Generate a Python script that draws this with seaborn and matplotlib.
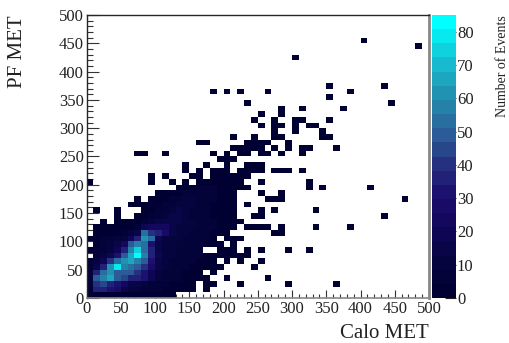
import pandas as pd
import matplotlib
matplotlib.use('Agg')
import matplotlib.pyplot as plt
from matplotlib.colors import LinearSegmentedColormap
from matplotlib.ticker import MultipleLocator
import seaborn as sns

# counts per 10 GeV bin, dense region: one row per PF bin, one column per Calo bin
dense_rows = [
    [2,3,3,3,3,3,3,3,2,2,1,1,1,0,0,0,0,0,0,0,0,0,0,0,0],
    [4,36,38,30,26,15,12,10,8,6,5,4,3,3,2,2,0,1,0,0,0,0,0,0,0],
    [6,40,46,38,30,22,16,13,9,7,6,5,4,3,2,2,0,1,1,0,0,0,1,0,0],
    [8,48,58,66,50,46,38,35,31,18,10,8,6,5,4,3,2,1,0,0,1,0,0,0,0],
    [7,36,55,60,50,50,47,40,32,18,10,8,6,5,4,3,2,0,1,0,0,0,0,0,0],
    [6,15,38,62,78,58,52,47,40,28,14,10,7,6,5,4,3,2,1,1,0,0,0,0,1],
    [5,10,20,40,52,63,66,58,50,32,15,10,8,7,6,5,4,3,2,0,1,0,1,0,0],
    [0,6,10,18,32,48,66,85,58,38,18,12,9,8,7,6,5,4,3,2,2,1,1,1,0],
    [2,5,8,12,20,38,58,73,53,38,15,10,9,8,7,6,5,0,0,3,2,1,0,1,0],
    [0,4,6,10,14,22,48,58,53,32,15,10,9,8,7,6,5,4,3,2,0,1,0,0,0],
    [3,4,5,8,10,12,20,38,63,53,18,12,10,9,8,7,6,5,3,0,2,1,1,0,0],
    [0,1,2,3,4,5,9,14,52,40,38,28,14,10,9,8,7,5,4,3,2,0,0,0,0],
    [0,1,1,2,2,3,4,8,18,22,22,22,14,12,10,9,8,6,5,4,3,2,0,1,1],
    [0,0,1,0,1,1,2,3,6,12,15,16,16,14,12,9,7,6,5,4,3,2,1,0,0],
    [0,0,0,0,1,0,0,1,3,6,8,10,14,14,10,7,6,5,4,3,2,1,0,0,1],
    [0,1,0,0,1,0,0,0,1,2,5,7,12,14,10,8,6,5,4,3,2,1,0,0,0],
    [0,0,0,0,0,0,1,1,1,2,4,5,8,10,12,9,8,6,4,3,2,1,0,1,0],
    [0,0,0,0,0,0,0,1,0,1,2,3,5,8,10,10,8,7,5,3,2,1,0,0,0],
    [0,0,0,0,0,0,0,0,0,0,1,2,3,4,6,8,7,8,5,3,2,1,0,0,0],
    [0,0,0,0,0,0,0,0,0,0,0,0,0,1,2,4,6,6,5,3,2,2,1,1,0],
    [1,0,0,0,0,0,0,0,0,1,0,0,1,0,1,0,2,3,4,3,2,2,1,0,0],
    [0,0,0,0,0,0,0,0,0,1,0,1,0,0,0,1,1,0,2,2,2,2,1,1,0],
    [0,0,0,0,0,0,0,0,0,0,0,0,0,0,1,0,1,0,1,1,1,0,1,1,1],
]

# isolated single-event bins: PF bin number and the Calo bins filled in that row
sparse_pf = [45, 44, 42, 37, 36, 35, 34, 33, 32, 31, 30, 29, 28, 27, 26, 25, 24, 23,
             22, 20, 19, 18, 17, 16, 15, 14, 12, 11, 8, 6, 5, 3, 2]
sparse_calo = [
    [40], [48], [30], [35, 43], [18, 20, 22, 26, 38], [35], [23, 44], [28, 31, 37],
    [25, 28], [24, 27, 30, 31, 35], [25, 27, 28, 30, 32, 33], [27, 30, 34],
    [21, 24, 27, 28, 34, 35], [16, 17, 23, 24, 25, 26, 29],
    [21, 22, 23, 24, 25, 27, 29, 31, 32, 36], [7, 8, 11, 18, 20, 22, 23, 25, 26, 28, 31],
    [19, 20, 21], [14, 17, 20, 23, 24, 25],
    [25, 27, 28, 29, 31], [25, 32], [32, 34, 41], [25, 28], [26, 27, 28, 46], [23],
    [25, 27, 33], [24, 25, 43], [23, 24, 25, 26, 28, 33, 38], [27, 28],
    [23, 25, 29, 32], [25], [24], [26], [29, 36],
]
tick_values = [0, 10, 20, 30, 40, 50, 60, 70, 80]

rows = []
for j, row in enumerate(dense_rows):
    for i, n in enumerate(row):
        if n > 0:
            rows.append((i * 10 + 5, j * 10 + 5, n))
for j, bins in zip(sparse_pf, sparse_calo):
    for i in bins:
        rows.append((i * 10 + 5, j * 10 + 5, 1))
df = pd.DataFrame(rows, columns=['calo', 'pf', 'n'])

sns.set_style('ticks')
plt.rcParams['font.family'] = ['Liberation Serif', 'DejaVu Serif']

W, H = 509, 343
fig = plt.figure(figsize=(W / 100, H / 100), dpi=100)
ax = fig.add_axes([86.5 / W, 1 - 298 / H, 342.5 / W, 283 / H])
cax = fig.add_axes([431.5 / W, 1 - 298 / H, 24 / W, 283 / H])

cmap = LinearSegmentedColormap.from_list(
    'met', [(0, '#000033'), (10 / 85, '#060440'), (20 / 85, '#10075a'), (30 / 85, '#1b0c6c'),
            (40 / 85, '#25307f'), (50 / 85, '#2c6099'), (60 / 85, '#2288aa'), (70 / 85, '#1ab2c8'),
            (1, '#00ffff')], N=20)
sns.histplot(data=df, x='calo', y='pf', weights='n', bins=50, binrange=((0, 500), (0, 500)),
             cmap=cmap, vmin=0, vmax=85, ax=ax, cbar=True, cbar_ax=cax)
mesh = ax.collections[0]
mesh.set_edgecolor('face')
mesh.set_linewidth(0)
mesh.set_antialiased(False)

ax.set_xlim(0, 500)
ax.set_ylim(0, 500)
ax.set_xlabel('')
ax.set_ylabel('')
for a in (ax.xaxis, ax.yaxis):
    a.set_major_locator(MultipleLocator(50))
    a.set_minor_locator(MultipleLocator(10))
ax.tick_params(which='both', direction='in', width=0.8, color='#333333', labelsize=12, labelcolor='#222222')
ax.tick_params(axis='x', which='major', length=5.8, pad=2)
ax.tick_params(axis='x', which='minor', length=2.9)
ax.tick_params(axis='y', which='major', length=8.6, pad=2)
ax.tick_params(axis='y', which='minor', length=4.3)
ax.spines['top'].set_linewidth(1)
ax.spines['left'].set_linewidth(1)
ax.spines['right'].set_color('#888888')
ax.spines['right'].set_linewidth(2)
ax.spines['bottom'].set_color('#888888')
ax.spines['bottom'].set_linewidth(1.2)

cax.set_yticks(tick_values)
cax.tick_params(direction='in', length=8, width=0.8, color='#222222', labelsize=12, pad=1, labelcolor='#222222')
cax.minorticks_off()
for s in cax.spines.values():
    s.set_visible(False)

fig.text(384 / W, 1 - 334 / H, 'Calo MET', fontsize=15, ha='center', va='center', color='#222222')
fig.text(17.5 / W, 1 - 52 / H, 'PF MET', fontsize=15, rotation=90, ha='center', va='center', color='#222222')
fig.text(503 / W, 1 - 66 / H, 'Number of Events', fontsize=10, rotation=90, ha='center', va='center', color='#222222')

plt.savefig('out.png', dpi=100)
